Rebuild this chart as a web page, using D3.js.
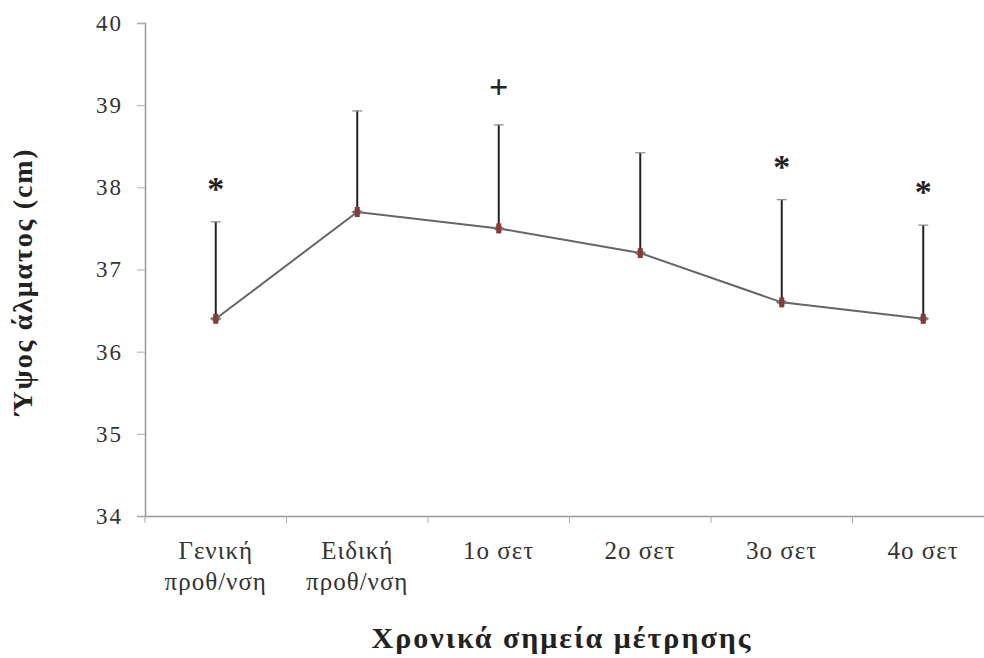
<!DOCTYPE html>
<meta charset="utf-8" />
<script src="https://d3js.org/d3.v7.min.js"></script>
<style>
    body { margin: 0; background: #fff; }
    text { font-family: 'Liberation Serif', 'DejaVu Serif', serif; }
</style>
<div id="chart"></div>
<script>
    // categories (two-line labels) and values
    const categories = ['Γενική|προθ/νση', 'Ειδική|προθ/νση', '1ο σετ', '2ο σετ', '3ο σετ', '4ο σετ']
    const means = [36.4, 37.7, 37.5, 37.2, 36.6, 36.4]
    const sds = [1.18, 1.23, 1.26, 1.22, 1.25, 1.14]
    const marks = ['*', '', '+', '', '*', '*']
    const yTicks = [34, 35, 36, 37, 38, 39, 40]

    const W = 984, H = 658
    const margin = { top: 23, right: -10, bottom: 142, left: 145 }

    const svg = d3.select('#chart').append('svg')
        .attr('width', W).attr('height', H)

    const x = d3.scaleBand()
        .domain(categories)
        .range([margin.left, W - margin.right])

    const y = d3.scaleLinear()
        .domain([34, 40])
        .range([H - margin.bottom, margin.top])

    // y axis
    const yAxis = svg.append('g')
        .attr('transform', `translate(${margin.left},0)`)
        .call(d3.axisLeft(y).tickValues(yTicks).tickFormat(d3.format('d')).tickSize(8).tickPadding(14))
    yAxis.select('.domain').attr('stroke', '#999').attr('stroke-width', 1.5)
    yAxis.selectAll('.tick line').attr('stroke', '#aaa')
    yAxis.selectAll('.tick text')
        .attr('font-size', 23).attr('fill', '#333')
        .attr('letter-spacing', 2)
        .attr('font-family', "'Liberation Serif', serif")

    // x axis
    const xAxis = svg.append('g')
        .attr('transform', `translate(0,${y(34)})`)
        .call(d3.axisBottom(x).tickSize(0).tickFormat(''))
    xAxis.select('.domain').attr('stroke', '#999').attr('stroke-width', 1.5)
    // boundary ticks between categories
    xAxis.selectAll('.bound')
        .data(categories)
        .join('line')
        .attr('class', 'bound')
        .attr('x1', (d) => x(d)).attr('x2', (d) => x(d))
        .attr('y1', 0).attr('y2', 7)
        .attr('stroke', '#aaa')

    // x labels (two lines)
    const lbl = svg.append('g').selectAll('text')
        .data(categories)
        .join('text')
        .attr('x', (d) => x(d) + x.bandwidth() / 2)
        .attr('y', 559)
        .attr('text-anchor', 'middle')
        .attr('font-size', 25)
        .attr('letter-spacing', 1)
        .attr('fill', '#333')
    lbl.selectAll('tspan')
        .data((d) => d.split('|').map((t, i) => ({ t, i, c: d })))
        .join('tspan')
        .attr('x', (d) => x(d.c) + x.bandwidth() / 2)
        .attr('dy', (d) => d.i === 0 ? 0 : 31)
        .text((d) => d.t)

    const cx = (i) => x(categories[i]) + x.bandwidth() / 2

    // error bars
    const eb = svg.append('g')
    eb.selectAll('.err')
        .data(means)
        .join('line')
        .attr('class', 'err')
        .attr('x1', (d, i) => cx(i)).attr('x2', (d, i) => cx(i))
        .attr('y1', (d) => y(d))
        .attr('y2', (d, i) => y(d + sds[i]))
        .attr('stroke', '#222')
        .attr('stroke-width', 2)
    eb.selectAll('.cap')
        .data(means)
        .join('line')
        .attr('class', 'cap')
        .attr('x1', (d, i) => cx(i) - 5).attr('x2', (d, i) => cx(i) + 5)
        .attr('y1', (d, i) => y(d + sds[i]))
        .attr('y2', (d, i) => y(d + sds[i]))
        .attr('stroke', '#888')
        .attr('stroke-width', 1.2)

    // mean line
    svg.append('path')
        .datum(means)
        .attr('fill', 'none')
        .attr('stroke', '#666')
        .attr('stroke-width', 2)
        .attr('d', d3.line().x((d, i) => cx(i)).y((d) => y(d)))

    // markers
    const mk = svg.append('g').selectAll('g')
        .data(means)
        .join('g')
        .attr('transform', (d, i) => `translate(${cx(i)},${y(d)})`)
    mk.append('path')
        .attr('d', 'M-6,0L0,-4L6,0L0,4Z')
        .attr('fill', '#777')
    mk.append('rect')
        .attr('x', -2.5).attr('y', -5).attr('width', 5).attr('height', 10)
        .attr('fill', '#8a3a36')

    // significance marks
    svg.append('g').selectAll('text')
        .data(marks)
        .join('text')
        .attr('x', (d, i) => cx(i))
        .attr('y', (d, i) => y(means[i] + sds[i]) - (d === '+' ? 27 : 22))
        .attr('text-anchor', 'middle')
        .attr('font-size', 34)
        .attr('font-weight', 'bold')
        .attr('font-family', "'Liberation Sans', sans-serif")
        .attr('fill', '#222')
        .text((d) => d)

    // axis titles
    svg.append('text')
        .attr('transform', `translate(32,${(y(34) + y(40)) / 2 + 12}) rotate(-90)`)
        .attr('text-anchor', 'middle')
        .attr('font-size', 28)
        .attr('letter-spacing', 1.8)
        .attr('font-weight', 'bold')
        .attr('fill', '#222')
        .text('Ύψος άλματος (cm)')

    svg.append('text')
        .attr('x', 562)
        .attr('y', 648)
        .attr('text-anchor', 'middle')
        .attr('font-size', 30)
        .attr('letter-spacing', 2)
        .attr('font-weight', 'bold')
        .attr('fill', '#222')
        .text('Χρονικά σημεία μέτρησης')
</script>
